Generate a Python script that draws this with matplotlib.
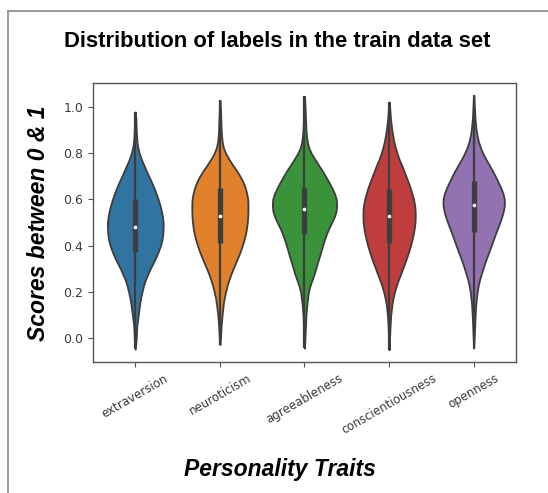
import matplotlib.pyplot as plt
from matplotlib.lines import Line2D

traits = ['extraversion', 'neuroticism', 'agreeableness', 'conscientiousness', 'openness']

score_grid = [0.00, 0.05, 0.10,
              0.15, 0.175, 0.20, 0.225, 0.25, 0.275, 0.30, 0.325, 0.35, 0.375, 0.40,
              0.425, 0.45, 0.475, 0.50, 0.525, 0.55, 0.575, 0.60, 0.625, 0.65, 0.675,
              0.70, 0.725, 0.75, 0.775, 0.80, 0.825, 0.85, 0.875, 0.90,
              0.95, 1.00, 1.05]

# relative density (violin half width) for each trait
dens_extraversion = [1.0, 1.5, 3.0,
                     4.5, 5.5, 6.8, 8.2, 10.0, 12.5, 15.0, 18.0, 20.8, 23.2, 25.3,
                     26.8, 27.6, 28.0, 28.0, 27.3, 26.2, 24.8, 23.0, 21.0, 18.8, 16.3,
                     13.6, 11.0, 8.5, 6.0, 4.0, 2.6, 1.7, 1.3, 1.0,
                     0.6, 0, 0]
dens_neuroticism = [0.6, 1.2, 2.2,
                    3.5, 4.5, 5.8, 7.2, 9.0, 11.0, 13.3, 15.8, 18.2, 20.5, 22.5,
                    24.2, 25.7, 26.8, 27.5, 28.0, 28.2, 28.2, 28.0, 27.0, 25.5, 23.3,
                    20.3, 16.8, 12.8, 9.0, 5.8, 3.5, 2.3, 1.7, 1.3,
                    0.9, 0.5, 0]
dens_agreeableness = [0.5, 1.0, 1.5,
                      2.5, 3.2, 4.0, 5.5, 7.5, 9.6, 11.3, 13.0, 14.8, 16.5, 18.2,
                      20.0, 22.0, 24.5, 27.3, 30.0, 31.8, 32.3, 32.0, 30.2, 27.5, 24.5,
                      21.2, 17.8, 14.0, 10.3, 6.8, 4.2, 2.8, 2.0, 1.5,
                      1.0, 0.6, 0]
dens_conscientiousness = [0.5, 1.0, 1.7,
                          3.0, 4.2, 5.5, 7.2, 9.2, 11.5, 13.6, 15.8, 17.9, 19.8, 21.5,
                          23.0, 24.3, 25.3, 26.0, 26.3, 26.2, 25.7, 24.6, 23.0, 21.3, 19.2,
                          17.0, 14.8, 12.5, 10.0, 8.0, 6.3, 4.8, 3.8, 2.8,
                          1.4, 0.6, 0]
dens_openness = [0.5, 1.0, 1.5,
                 2.2, 2.8, 3.5, 4.5, 5.8, 7.5, 9.3, 11.2, 13.3, 15.5, 17.6,
                 19.7, 21.8, 24.0, 26.2, 28.2, 29.8, 30.8, 30.8, 29.5, 27.3, 24.6,
                 21.8, 18.8, 15.5, 12.2, 9.2, 6.7, 4.8, 3.5, 2.5,
                 1.3, 0.7, 0.2]

q1 = [0.37, 0.41, 0.45, 0.41, 0.46]
medians = [0.48, 0.53, 0.56, 0.53, 0.575]
q3 = [0.60, 0.65, 0.65, 0.645, 0.68]
lows = [-0.05, -0.03, -0.045, -0.052, -0.045]
highs = [0.98, 1.03, 1.048, 1.023, 1.052]

colors = ['#3274a1', '#e1812c', '#3a923a', '#c03d3e', '#9372b2']
gray = '#3d3d3d'

plt.rcParams['font.family'] = 'DejaVu Sans'
fig = plt.figure(figsize=(5.48, 4.93), dpi=100)
ax = fig.add_axes([0.1697, 0.2657, 0.7719, 0.5659])

densities = [dens_extraversion, dens_neuroticism, dens_agreeableness,
             dens_conscientiousness, dens_openness]
peak = max(max(d) for d in densities)

stats = []
for d, lo, hi, med in zip(densities, lows, highs, medians):
    coords = [lo] + [c for c in score_grid if lo < c < hi] + [hi]
    vals = [0] + [v for c, v in zip(score_grid, d) if lo < c < hi] + [0]
    stats.append({'coords': coords, 'vals': vals, 'mean': med, 'median': med,
                  'min': lo, 'max': hi})
widths = [0.76 * max(d) / peak for d in densities]
positions = list(range(len(traits)))

parts = ax.violin(stats, positions=positions, widths=widths, showextrema=False)
for body, c in zip(parts['bodies'], colors):
    body.set_facecolor(c)
    body.set_edgecolor(gray)
    body.set_linewidth(1.3)
    body.set_alpha(1)

# inner box like seaborn
for i in positions:
    ax.plot([i, i], [lows[i], highs[i]], color=gray, lw=1.6, solid_capstyle='butt', zorder=2)
    ax.plot([i, i], [q1[i], q3[i]], color=gray, lw=3.8, solid_capstyle='butt', zorder=2)
    ax.scatter(i, medians[i], s=7, color='white', zorder=3, linewidths=0)

ax.set_xlim(-0.5, 4.5)
ax.set_ylim(-0.105, 1.105)
ax.set_yticks([0, 0.2, 0.4, 0.6, 0.8, 1.0])
ax.set_yticklabels(['0.0', '0.2', '0.4', '0.6', '0.8', '1.0'])
ax.set_xticks(positions)
ax.set_xticklabels(traits, rotation=30)
ax.tick_params(axis='both', colors='#555555', labelcolor='#3a3a3a', length=3.5)
ax.tick_params(axis='y', labelsize=9)
ax.tick_params(axis='x', labelsize=8.5)
for s in ax.spines.values():
    s.set_color('#555555')
    s.set_linewidth(1)

fig.text(0.506, 0.9037, 'Distribution of labels in the train data set',
         ha='center', va='baseline', fontsize=15.8, fontweight='bold', family='Liberation Sans')
fig.text(0.510, 0.0335, 'Personality Traits', ha='center', va='baseline',
         fontsize=16.5, fontweight='bold', style='italic', family='Liberation Sans')
fig.text(0.071, 0.548, 'Scores between 0 & 1', ha='center', va='center', rotation=90,
         fontsize=16.5, fontweight='bold', style='italic', family='Liberation Sans')

# screenshot frame
fig.add_artist(Line2D([8 / 548, 8 / 548], [0, 1 - 11 / 493], color='#8a8a8a', lw=1.2))
fig.add_artist(Line2D([8 / 548, 1], [1 - 11 / 493, 1 - 11 / 493], color='#8a8a8a', lw=1.2))

fig.savefig('out.png', dpi=100)
